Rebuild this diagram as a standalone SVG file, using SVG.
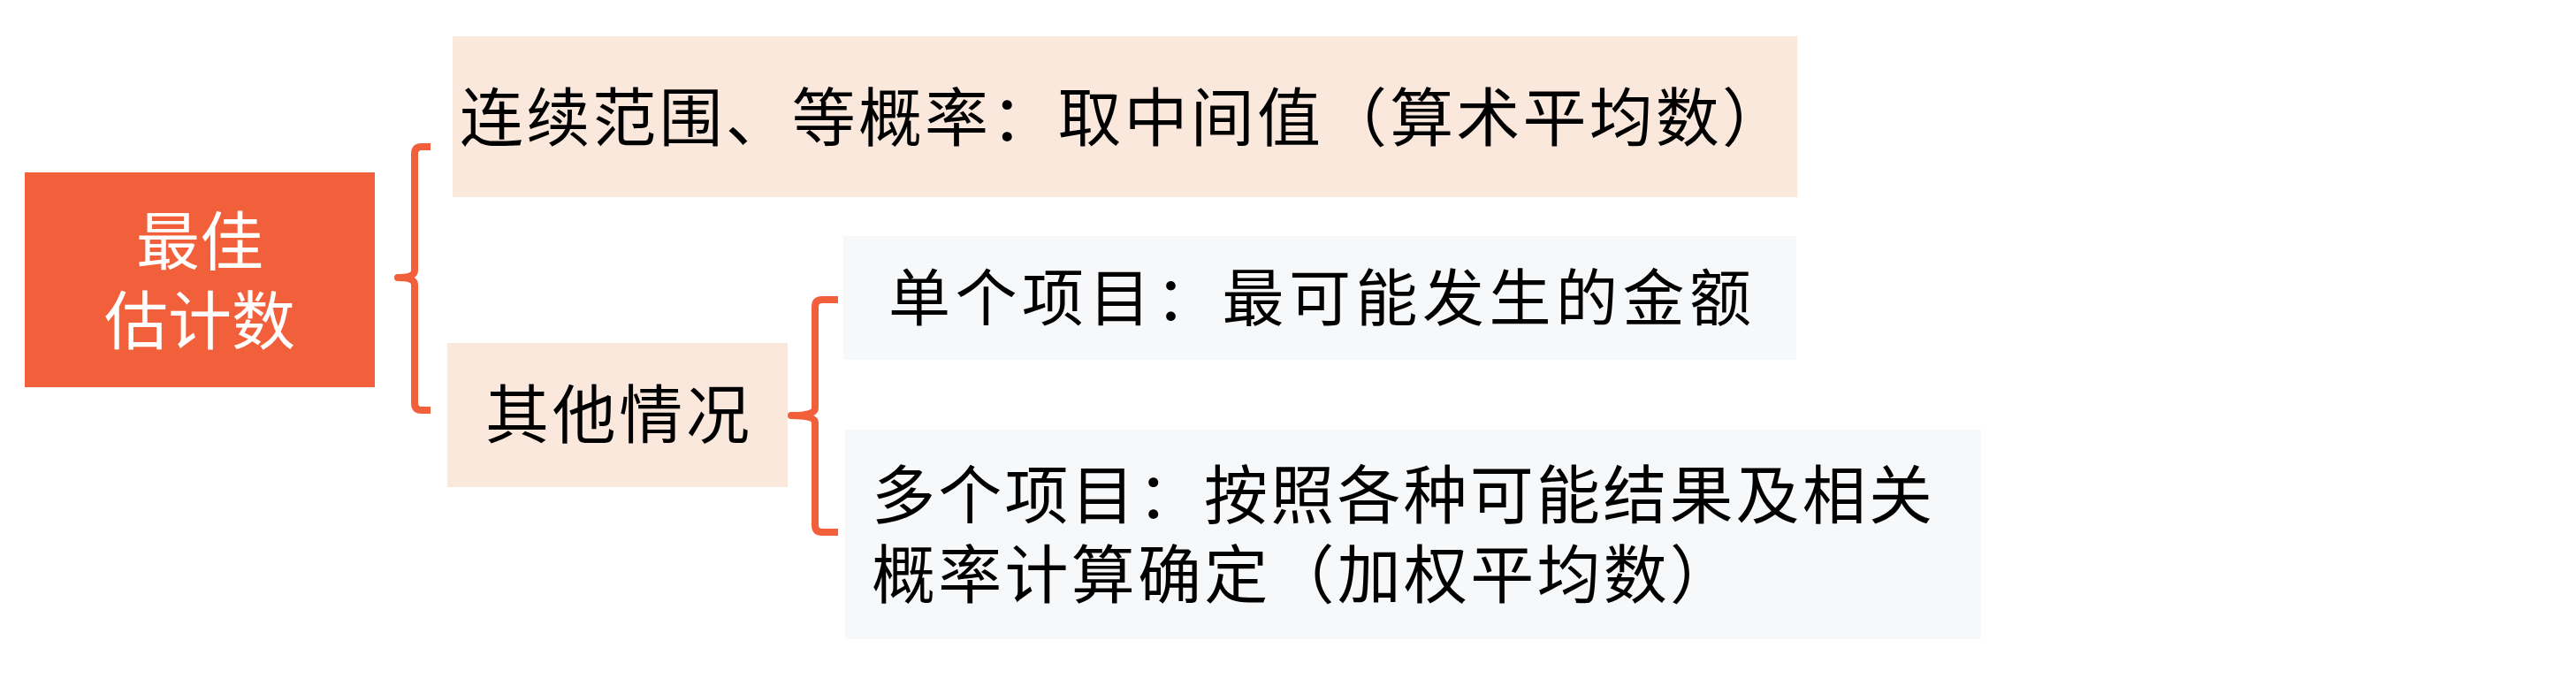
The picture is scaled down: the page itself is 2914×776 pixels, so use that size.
<svg xmlns="http://www.w3.org/2000/svg" width="2914" height="776" viewBox="0 0 2914 776">
  <style>
    .t { font-family: "Noto Sans CJK SC", "Noto Sans", sans-serif; font-size: 72px; fill: #000000; }
    .w { fill: #FFFFFF; }
    .peach { fill: #FBE8DD; }
    .grey { fill: #F7F8FA; }
    .brace { fill: none; stroke: #F2603B; stroke-width: 8; stroke-linejoin: round; }
  </style>
  <rect width="2914" height="776" fill="#FFFFFF"/>
  <g id="node-main">
    <rect x="28" y="195" width="396" height="243" fill="#F2603B"/>
    <text class="t w" text-anchor="middle"><tspan x="226" y="299">最佳</tspan><tspan x="226" y="389">估计数</tspan></text>
  </g>
  <g id="node-continuous">
    <rect class="peach" x="512" y="41" width="1521" height="182"/>
    <text class="t" x="520" y="159" textLength="1500" lengthAdjust="spacing">连续范围、等概率：取中间值（算术平均数）</text>
  </g>
  <g id="node-other">
    <rect class="peach" x="506" y="388" width="385" height="163"/>
    <text class="t" x="549" y="495" textLength="299" lengthAdjust="spacing">其他情况</text>
  </g>
  <g id="node-single">
    <rect class="grey" x="954" y="267" width="1078" height="140"/>
    <text class="t" x="1005" y="363" style="font-size:70px" textLength="976" lengthAdjust="spacing">单个项目：最可能发生的金额</text>
  </g>
  <g id="node-multiple">
    <rect class="grey" x="956" y="486" width="1285" height="237"/>
    <text class="t"><tspan x="986" y="586" textLength="1200" lengthAdjust="spacing">多个项目：按照各种可能结果及相关</tspan><tspan x="986" y="676" textLength="975" lengthAdjust="spacing">概率计算确定（加权平均数）</tspan></text>
  </g>
  <g id="connectors">
    <path class="brace" d="M487,166 H477 Q469,166 469,174 V306 Q469,314 450,314 Q469,314 469,322 V456 Q469,464 477,464 H487"/>
    <path class="brace" d="M948,339 H930 Q922,339 922,347 V462 Q922,470 895,470 Q922,470 922,478 V594 Q922,602 930,602 H948"/>
  </g>
</svg>
